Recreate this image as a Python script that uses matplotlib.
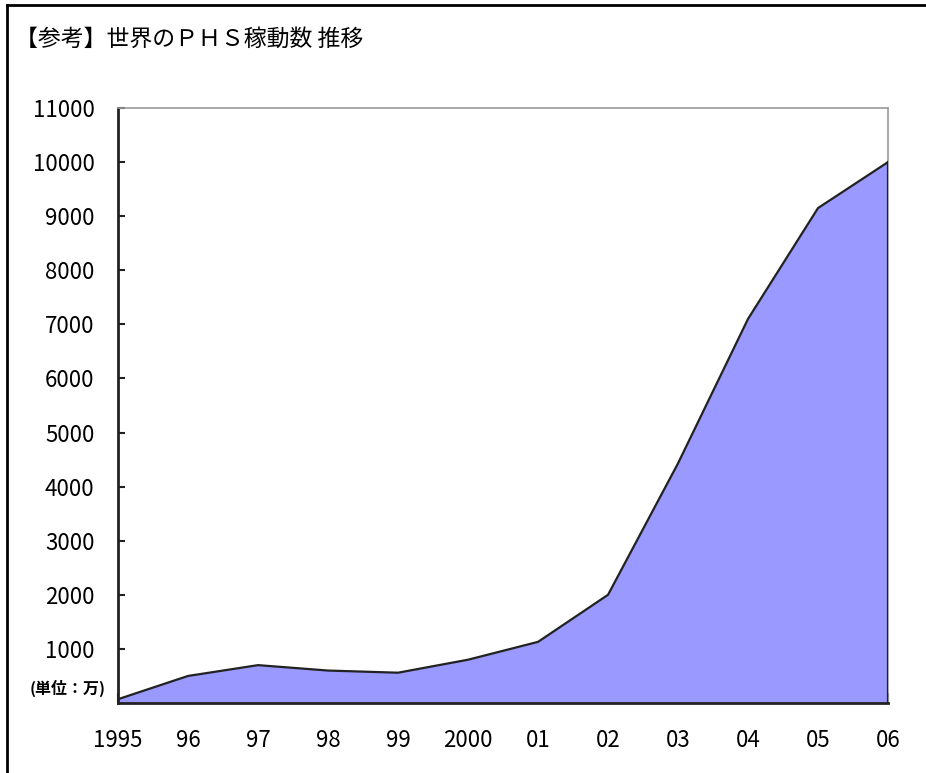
import matplotlib
matplotlib.use("Agg")
import matplotlib.pyplot as plt
from matplotlib.lines import Line2D

plt.rcParams['font.family'] = ['Noto Sans CJK JP', 'DejaVu Sans']

years = [1995, 1996, 1997, 1998, 1999, 2000, 2001, 2002, 2003, 2004, 2005, 2006]
xlabels = ["1995", "96", "97", "98", "99", "2000", "01", "02", "03", "04", "05", "06"]
values = [70, 500, 700, 600, 560, 800, 1130, 2000, 4430, 7100, 9150, 10000]
yticks = [1000, 2000, 3000, 4000, 5000, 6000, 7000, 8000, 9000, 10000, 11000]
title = "【参考】世界のＰＨＳ稼動数 推移"
unit = "(単位：万)"

fig = plt.figure(figsize=(9.26, 7.73), dpi=100)
ax = fig.add_axes([118/926, 1-703/773, (888-118)/926, (703-108)/773])

ax.fill_between(years, values, 0, facecolor='#9999ff', edgecolor='none', zorder=2)
ax.plot(years, values, color='#222222', lw=1.6, zorder=3)
ax.plot([years[-1], years[-1]], [0, values[-1]], color='#222222', lw=1.6, zorder=3)

ax.set_xlim(years[0], years[-1])
ax.set_ylim(0, 11000)
ax.set_xticks(years)
ax.set_xticklabels(xlabels, fontsize=16)
ax.set_yticks(yticks)
ax.set_yticklabels([str(v) for v in yticks], fontsize=16)
ax.tick_params(axis='x', direction='in', length=7, width=1.5, pad=19, color='#222222')
ax.tick_params(axis='y', direction='in', length=5, width=1.5, pad=17, color='#222222')

for s in ['left', 'bottom']:
    ax.spines[s].set_color('#222222')
    ax.spines[s].set_linewidth(2)
for s in ['top', 'right']:
    ax.spines[s].set_color('#999999')
    ax.spines[s].set_linewidth(1.2)

fig.text(15/926, 1-39/773, title, fontsize=16.5, ha='left', va='center')
fig.text(30/926, 1-688/773, unit, fontsize=11.5, ha='left', va='center', fontweight='bold')

# outer frame (top and left)
fig.add_artist(Line2D([7/926, 1.0], [1-5/773, 1-5/773], transform=fig.transFigure, color='black', lw=2))
fig.add_artist(Line2D([7/926, 7/926], [0, 1-5/773], transform=fig.transFigure, color='black', lw=2))

fig.savefig("out.png", dpi=100)
